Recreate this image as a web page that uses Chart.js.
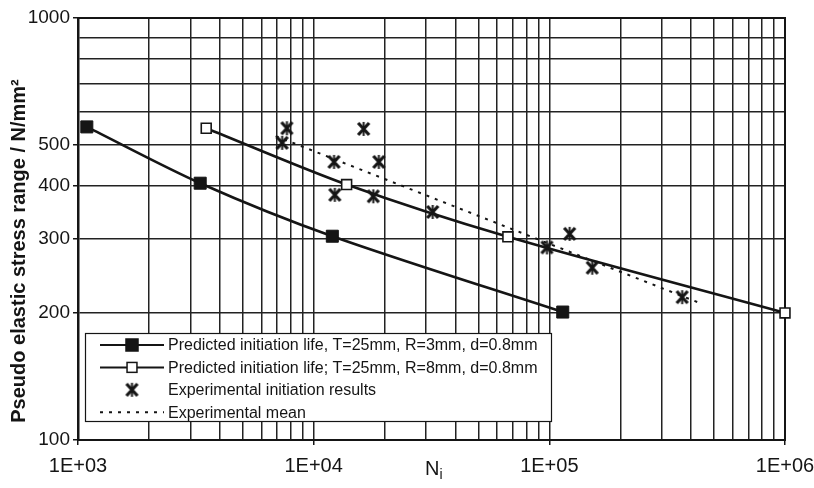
<!DOCTYPE html>
<html><head><meta charset="utf-8">
<script src="https://cdn.jsdelivr.net/npm/chart.js@4/dist/chart.umd.min.js"></script>
<style>html,body{margin:0;padding:0;background:#fff;}#wrap{width:814px;height:488px;}</style>
</head><body><div id="wrap"><canvas id="c" width="814" height="488"></canvas></div>
<script>
// ---- data ----
const seriesLabels = [
  'Predicted initiation life, T=25mm, R=3mm, d=0.8mm',
  'Predicted initiation life; T=25mm, R=8mm, d=0.8mm',
  'Experimental initiation results',
  'Experimental mean'
];
const predR3Cycles = [1090, 3300, 12000, 114000];
const predR3Stress = [552, 406, 304, 201];
const predR8Cycles = [3500, 13800, 66700, 1000000];
const predR8Stress = [548, 403, 303, 200];
const expCycles = [7700, 16300, 7350, 12200, 18900, 12300, 17900, 32000, 122000, 97700, 152000, 366000];
const expStress = [548, 546, 506, 456, 456, 381, 378, 347, 308, 286, 256, 218];
const meanCycles = [6900, 427000];
const meanStress = [525, 212];

const xDecades = [1e3, 1e4, 1e5];
const gridSteps = [1, 2, 3, 4, 5, 6, 7, 8, 9];
const xMax = 1e6;
const xTickLabels = {1000: '1E+03', 10000: '1E+04', 100000: '1E+05', 1000000: '1E+06'};
const yGridValues = [100, 200, 300, 400, 500, 600, 700, 800, 900, 1000];
const yTickLabels = [100, 200, 300, 400, 500, 1000];
const yTitle = 'Pseudo elastic stress range / N/mm\u00B2';
const xTitleMain = 'N';
const xTitleSub = 'i';

// ---- helpers ----
const pts = (xs, ys) => xs.map((x, i) => ({x: x, y: ys[i]}));
const xGridValues = [];
xDecades.forEach(d => gridSteps.forEach(s => xGridValues.push(d * s)));
xGridValues.push(xMax);

const FONT = '"Liberation Sans", Arial, Helvetica, sans-serif';
const INK = '#151515';

function makeStar() {
  const c = document.createElement('canvas');
  c.width = 15; c.height = 16;
  const g = c.getContext('2d');
  g.strokeStyle = INK; g.lineWidth = 3.2;
  g.beginPath(); g.moveTo(2, 2); g.lineTo(13, 14); g.moveTo(13, 2); g.lineTo(2, 14); g.stroke();
  g.lineWidth = 2;
  g.beginPath(); g.moveTo(7.5, 1); g.lineTo(7.5, 15); g.stroke();
  return c;
}
const starImg = makeStar();

const styles = [
  {kind: 'line', marker: 'rect', fill: INK, radius: 8.5},
  {kind: 'line', marker: 'rect', fill: '#fff', radius: 7},
  {kind: 'star'},
  {kind: 'dots'}
];

const frameAndTitles = {
  id: 'frameAndTitles',
  beforeDatasetsDraw(chart) {
    const {ctx, chartArea: a} = chart;
    ctx.save();
    ctx.strokeStyle = INK; ctx.lineWidth = 2;
    ctx.strokeRect(a.left, a.top, a.right - a.left, a.bottom - a.top);
    ctx.restore();
  },
  afterDraw(chart) {
    const {ctx, chartArea: a} = chart;
    ctx.save();
    // y title
    ctx.translate(19, 251);
    ctx.rotate(-Math.PI / 2);
    ctx.font = 'bold 20px ' + FONT;
    ctx.fillStyle = INK; ctx.textAlign = 'center'; ctx.textBaseline = 'middle';
    ctx.fillText(yTitle, 0, 0);
    ctx.restore();
    // x title
    ctx.save();
    ctx.fillStyle = INK; ctx.textBaseline = 'alphabetic';
    ctx.font = '20px ' + FONT;
    ctx.fillText(xTitleMain, 425, 475);
    const w = ctx.measureText(xTitleMain).width;
    ctx.font = '14px ' + FONT;
    ctx.fillText(xTitleSub, 425 + w, 479);
    ctx.restore();
    // legend box
    const bx = a.left + 7, by = 333, bw = 466, bh = 88;
    ctx.save();
    ctx.fillStyle = '#fff';
    ctx.fillRect(bx, by, bw, bh);
    ctx.strokeStyle = INK; ctx.lineWidth = 1.2;
    ctx.strokeRect(bx + 0.5, by + 0.5, bw, bh);
    ctx.font = '16px ' + FONT;
    ctx.textBaseline = 'middle'; ctx.textAlign = 'left';
    chart.data.datasets.forEach((ds, i) => {
      const y = by + 12 + i * 22.4;
      const x0 = bx + 15, x1 = bx + 79, xm = (x0 + x1) / 2;
      const st = styles[i];
      ctx.strokeStyle = INK;
      if (st.kind === 'line') {
        ctx.lineWidth = 2;
        ctx.setLineDash([]);
        ctx.beginPath(); ctx.moveTo(x0, y); ctx.lineTo(x1, y); ctx.stroke();
        const s = st.radius * Math.SQRT1_2;
        ctx.fillStyle = st.fill; ctx.lineWidth = 1.5;
        ctx.fillRect(xm - s, y - s, 2 * s, 2 * s);
        ctx.strokeRect(xm - s, y - s, 2 * s, 2 * s);
      } else if (st.kind === 'star') {
        ctx.drawImage(starImg, xm - starImg.width / 2, y - starImg.height / 2);
      } else {
        ctx.lineWidth = 2; ctx.setLineDash([3, 6]);
        ctx.beginPath(); ctx.moveTo(x0, y); ctx.lineTo(x1, y); ctx.stroke();
        ctx.setLineDash([]);
      }
      ctx.fillStyle = INK;
      ctx.fillText(ds.label, bx + 83, y + 1);
    });
    ctx.restore();
  }
};

new Chart(document.getElementById('c'), {
  type: 'scatter',
  data: {
    datasets: [
      {label: seriesLabels[0], data: pts(predR3Cycles, predR3Stress), showLine: true, clip: false,
       borderColor: INK, borderWidth: 2.6, tension: 0.3, pointStyle: 'rect',
       pointRadius: styles[0].radius, pointBackgroundColor: INK, pointBorderColor: INK, pointBorderWidth: 1},
      {label: seriesLabels[1], data: pts(predR8Cycles, predR8Stress), showLine: true, clip: false,
       borderColor: INK, borderWidth: 2.6, tension: 0.3, pointStyle: 'rect',
       pointRadius: styles[1].radius, pointBackgroundColor: '#fff', pointBorderColor: INK, pointBorderWidth: 1.6},
      {label: seriesLabels[2], data: pts(expCycles, expStress), showLine: false,
       pointStyle: starImg, pointRadius: 8},
      {label: seriesLabels[3], data: pts(meanCycles, meanStress), showLine: true,
       borderColor: INK, borderWidth: 2, borderDash: [3, 6], pointRadius: 0, tension: 0}
    ]
  },
  options: {
    responsive: false,
    animation: false,
    devicePixelRatio: 1,
    layout: {padding: {left: 0, right: 29, top: 18, bottom: 0}},
    plugins: {legend: {display: false}, tooltip: {enabled: false}},
    scales: {
      x: {
        type: 'logarithmic', min: 1000, max: xMax,
        afterBuildTicks: s => { s.ticks = xGridValues.map(v => ({value: v})); },
        afterFit: s => { s.height = 48; s.paddingLeft = 0; s.paddingRight = 0; },
        ticks: {
          autoSkip: false, maxRotation: 0, minRotation: 0, padding: 9,
          font: {family: FONT, size: 20}, color: INK,
          callback: v => xTickLabels[v] || ''
        },
        grid: {
          color: '#222', lineWidth: 1.5, drawTicks: true, tickLength: 5,
          tickColor: c => (c.tick && xTickLabels[c.tick.value]) ? INK : 'rgba(0,0,0,0)'
        },
        border: {display: true, color: INK, width: 2}
      },
      y: {
        type: 'logarithmic', min: 100, max: 1000,
        afterBuildTicks: s => { s.ticks = yGridValues.map(v => ({value: v})); },
        afterFit: s => { s.width = 78; s.paddingTop = 0; s.paddingBottom = 0; },
        ticks: {
          autoSkip: false, padding: 3,
          font: {family: FONT, size: 19}, color: INK,
          callback: v => yTickLabels.includes(v) ? String(v) : ''
        },
        grid: {
          color: '#222', lineWidth: 1.5, drawTicks: true, tickLength: 5,
          tickColor: c => (c.tick && yTickLabels.includes(c.tick.value)) ? INK : 'rgba(0,0,0,0)'
        },
        border: {display: true, color: INK, width: 2.5}
      }
    }
  },
  plugins: [frameAndTitles]
});
</script></body></html>
